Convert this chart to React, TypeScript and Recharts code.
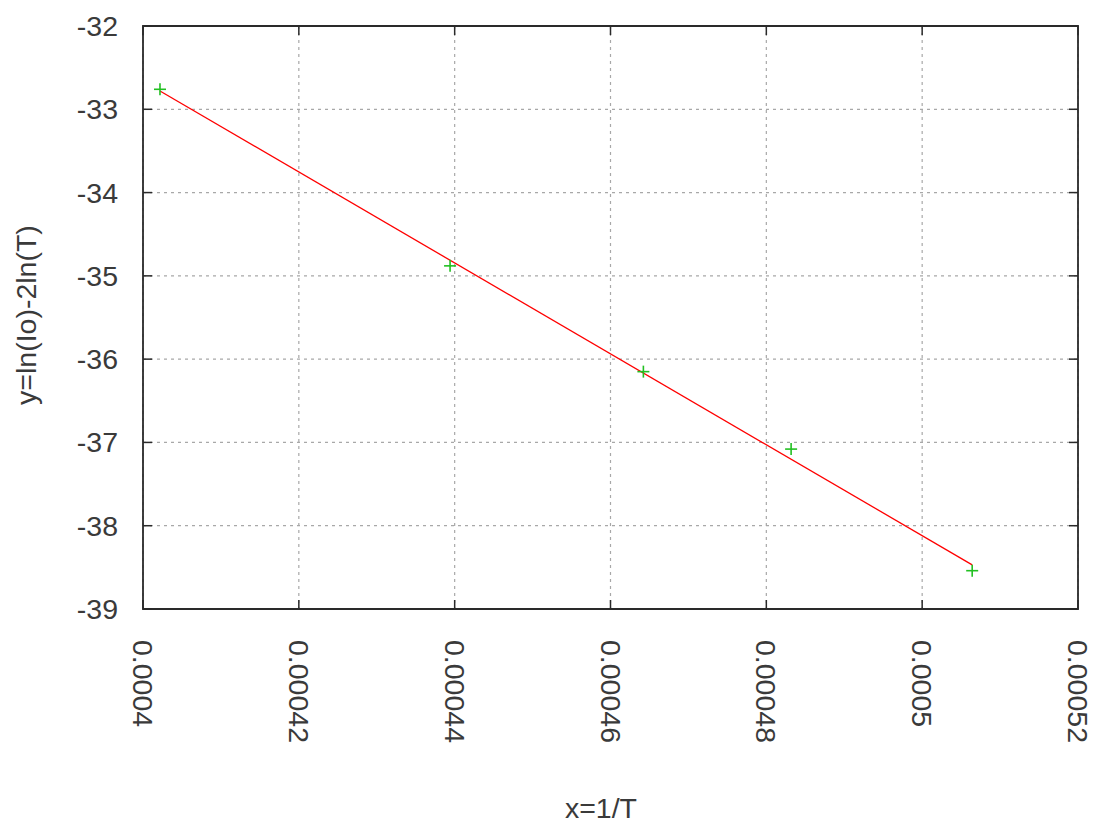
import { ReferenceArea, CartesianGrid, Scatter, ScatterChart, XAxis, YAxis } from 'recharts'

// measured points (x = 1/T, y = ln(Io) - 2ln(T))
const pointX = [0.00040218, 0.00043941, 0.00046422, 0.00048318, 0.00050642]
const pointY = [-32.76, -34.88, -36.15, -37.08, -38.54]

// fitted straight line, end points
const fitX = [0.00040218, 0.00050642]
const fitY = [-32.78, -38.47]

const xTicks = [0.0004, 0.00042, 0.00044, 0.00046, 0.00048, 0.0005, 0.00052]
const xTickLabels = ['0.0004', '0.00042', '0.00044', '0.00046', '0.00048', '0.0005', '0.00052']
const yTicks = [-39, -38, -37, -36, -35, -34, -33, -32]

const points = pointX.map((x, i) => ({ x, y: pointY[i] }))
const fitLine = fitX.map((x, i) => ({ x, y: fitY[i] }))

const W = 1094
const H = 825
const PLOT = { left: 143, top: 26, right: 1078, bottom: 609 }
const TICK_LEN = 9

const COLORS = {
  text: '#3a3a3a',
  frame: '#2a2a2a',
  grid: '#a8a8a8',
  fit: '#ff0000',
  points: '#22c022',
}
const FONT = '"Liberation Sans", Arial, sans-serif'
const FONT_SIZE = 28.5

function XTick(props: any) {
  const { x, payload, index } = props
  return (
    <g>
      <line x1={x} x2={x} y1={PLOT.bottom} y2={PLOT.bottom - TICK_LEN} stroke={COLORS.frame} strokeWidth={1.5} />
      <line x1={x} x2={x} y1={PLOT.top} y2={PLOT.top + TICK_LEN} stroke={COLORS.frame} strokeWidth={1.5} />
      <text
        transform={`translate(${x},${PLOT.bottom + 31}) rotate(90)`}
        textAnchor="start"
        dominantBaseline="central"
        fill={COLORS.text}
        fontFamily={FONT}
        fontSize={FONT_SIZE}
      >
        {xTickLabels[index] ?? String(payload.value)}
      </text>
    </g>
  )
}

function YTick(props: any) {
  const { y, payload } = props
  return (
    <g>
      <line x1={PLOT.left} x2={PLOT.left + TICK_LEN} y1={y} y2={y} stroke={COLORS.frame} strokeWidth={1.5} />
      <line x1={PLOT.right} x2={PLOT.right - TICK_LEN} y1={y} y2={y} stroke={COLORS.frame} strokeWidth={1.5} />
      <text
        x={118}
        y={y}
        textAnchor="end"
        dominantBaseline="central"
        fill={COLORS.text}
        fontFamily={FONT}
        fontSize={FONT_SIZE}
      >
        {String(payload.value)}
      </text>
    </g>
  )
}

function Cross(props: any) {
  const { cx, cy } = props
  const r = 6
  return (
    <g>
      <line x1={cx - r} x2={cx + r} y1={cy} y2={cy} stroke={COLORS.points} strokeWidth={1.6} />
      <line x1={cx} x2={cx} y1={cy - r} y2={cy + r} stroke={COLORS.points} strokeWidth={1.6} />
    </g>
  )
}

export default function App() {
  return (
    <div style={{ position: 'absolute', left: 0, top: 0, width: W, height: H, background: '#fff' }}>
      <ScatterChart
        width={W}
        height={H}
        margin={{ top: PLOT.top, right: W - PLOT.right, bottom: 0, left: 0 }}
      >
        <CartesianGrid stroke={COLORS.grid} strokeDasharray="3 4" strokeWidth={1.2} />
        <XAxis
          type="number"
          dataKey="x"
          domain={[0.0004, 0.00052]}
          ticks={xTicks}
          interval={0}
          height={H - PLOT.bottom}
          axisLine={false}
          tickLine={false}
          tick={<XTick />}
          allowDataOverflow
        />
        <YAxis
          type="number"
          dataKey="y"
          domain={[-39, -32]}
          ticks={yTicks}
          interval={0}
          width={PLOT.left}
          axisLine={false}
          tickLine={false}
          tick={<YTick />}
          allowDataOverflow
        />
        <ReferenceArea
          x1={0.0004}
          x2={0.00052}
          y1={-39}
          y2={-32}
          fill="none"
          fillOpacity={0}
          stroke={COLORS.frame}
          strokeWidth={1.8}
          ifOverflow="visible"
        />
        <Scatter
          data={fitLine}
          line={{ stroke: COLORS.fit, strokeWidth: 1.3 }}
          shape={() => <g />}
          isAnimationActive={false}
        />
        <Scatter data={points} shape={<Cross />} isAnimationActive={false} />
        <text
          x={601}
          y={808}
          textAnchor="middle"
          dominantBaseline="central"
          fill={COLORS.text}
          fontFamily={FONT}
          fontSize={FONT_SIZE}
        >
          x=1/T
        </text>
        <text
          transform="translate(26,315) rotate(-90)"
          textAnchor="middle"
          dominantBaseline="central"
          fill={COLORS.text}
          fontFamily={FONT}
          fontSize={FONT_SIZE}
        >
          y=ln(Io)-2ln(T)
        </text>
      </ScatterChart>
    </div>
  )
}
